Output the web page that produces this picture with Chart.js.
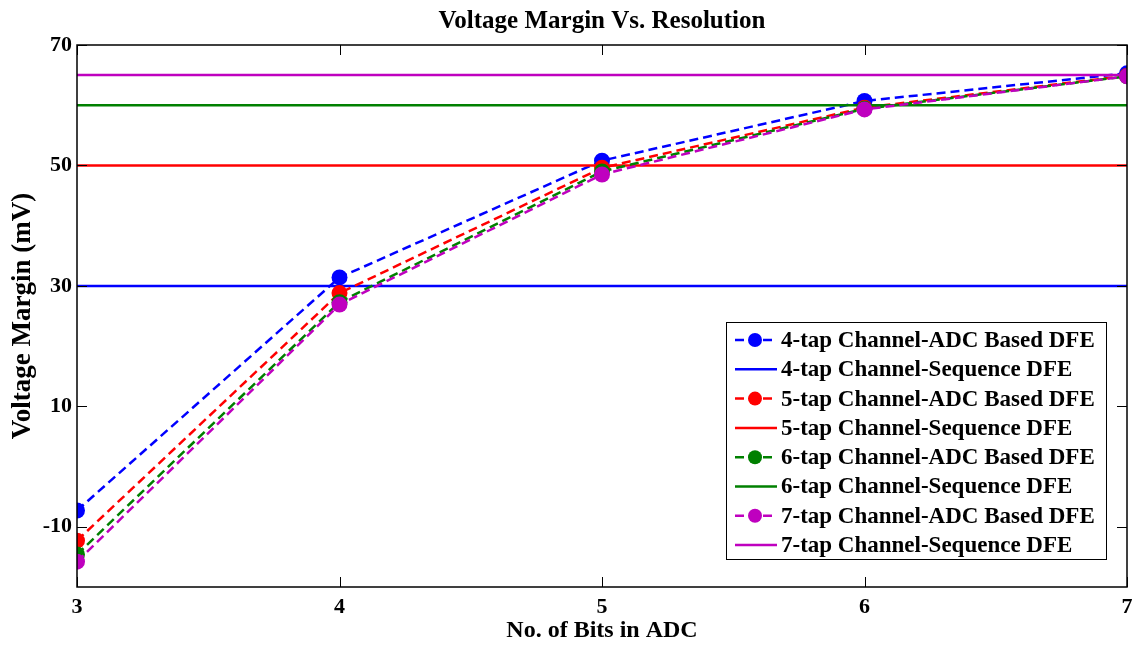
<!DOCTYPE html>
<html>
<head>
<meta charset="utf-8">
<script src="https://cdn.jsdelivr.net/npm/chart.js@4/dist/chart.umd.min.js"></script>
<style>
  html, body { margin: 0; padding: 0; background: #fff; }
  #wrap { width: 1135px; height: 645px; }
</style>
</head>
<body>
<div id="wrap"><canvas id="marginChart" width="1135" height="645"></canvas></div>
<script>
// Voltage margin vs ADC resolution

const xTicks = [3, 4, 5, 6, 7];
const yTicks = [-10, 10, 30, 50, 70];
const bits = [3, 4, 5, 6, 7];

const adc4 = [-7.3, 31.4, 50.8, 60.7, 65.3];
const adc5 = [-12.3, 28.8, 49.6, 59.6, 64.9];
const adc6 = [-14.6, 27.3, 49.0, 59.4, 64.8];
const adc7 = [-15.8, 26.9, 48.5, 59.3, 64.8];
const seqLevels = [30, 50, 60, 65];

const tapNames = ['4-tap', '5-tap', '6-tap', '7-tap'];
const COLORS = ['#0000FF', '#FF0000', '#008000', '#BF00BF'];
const FONT = "'Liberation Serif', 'Times New Roman', serif";

const adcSeries = [adc4, adc5, adc6, adc7];

const datasets = [];
tapNames.forEach((tap, i) => {
    datasets.push({
        label: tap + ' Channel-ADC Based DFE',
        data: bits.map((b, k) => ({ x: b, y: adcSeries[i][k] })),
        borderColor: COLORS[i],
        backgroundColor: COLORS[i],
        borderWidth: 2.5,
        borderDash: [9, 5],
        pointRadius: 8,
        pointBorderWidth: 0,
        pointBackgroundColor: COLORS[i],
        tension: 0,
        order: 20 - 2 * i,
        dashed: true
    });
    datasets.push({
        label: tap + ' Channel-Sequence DFE',
        data: [{ x: xTicks[0], y: seqLevels[i] }, { x: xTicks[xTicks.length - 1], y: seqLevels[i] }],
        borderColor: COLORS[i],
        backgroundColor: COLORS[i],
        borderWidth: 2.5,
        pointRadius: 0,
        tension: 0,
        order: 19 - 2 * i,
        dashed: false
    });
});

// frame, inward ticks, title and legend
const decorPlugin = {
    id: 'decor',
    afterDatasetsDraw: (chart) => {
        const ctx = chart.ctx;
        const a = chart.chartArea;
        const xs = chart.scales.x;
        const ys = chart.scales.y;
        ctx.save();
        ctx.strokeStyle = '#000';
        ctx.lineWidth = 1.5;
        ctx.strokeRect(a.left, a.top, a.right - a.left, a.bottom - a.top);

        const tl = 10;
        ctx.lineWidth = 1;
        ctx.beginPath();
        xTicks.forEach(v => {
            const px = Math.round(xs.getPixelForValue(v)) + 0.5;
            ctx.moveTo(px, a.bottom); ctx.lineTo(px, a.bottom - tl);
            ctx.moveTo(px, a.top); ctx.lineTo(px, a.top + tl);
        });
        yTicks.forEach(v => {
            const py = Math.round(ys.getPixelForValue(v)) + 0.5;
            ctx.moveTo(a.left, py); ctx.lineTo(a.left + tl, py);
            ctx.moveTo(a.right, py); ctx.lineTo(a.right - tl, py);
        });
        ctx.stroke();

        // title
        ctx.fillStyle = '#000';
        ctx.font = 'bold 25px ' + FONT;
        ctx.textAlign = 'center';
        ctx.textBaseline = 'middle';
        ctx.fillText('Voltage Margin Vs. Resolution', (a.left + a.right) / 2, 22);

        // legend
        const box = { x: 726, y: 322, w: 380, h: 237 };
        ctx.fillStyle = '#fff';
        ctx.fillRect(box.x, box.y, box.w, box.h);
        ctx.strokeStyle = '#000';
        ctx.lineWidth = 1;
        ctx.strokeRect(box.x + 0.5, box.y + 0.5, box.w, box.h);
        ctx.font = 'bold 23px ' + FONT;
        ctx.textAlign = 'left';
        chart.data.datasets.forEach((ds, i) => {
            const cy = 340 + i * 29.3;
            ctx.strokeStyle = ds.borderColor;
            ctx.lineWidth = 2.5;
            ctx.setLineDash(ds.dashed ? [9, 5] : []);
            ctx.beginPath();
            ctx.moveTo(735, cy); ctx.lineTo(777, cy);
            ctx.stroke();
            ctx.setLineDash([]);
            if (ds.dashed) {
                ctx.fillStyle = ds.borderColor;
                ctx.beginPath();
                ctx.arc(755, cy, 7, 0, Math.PI * 2);
                ctx.fill();
            }
            ctx.fillStyle = '#000';
            ctx.fillText(ds.label, 781, cy + 1);
        });
        ctx.restore();
    }
};

const tickFont = { family: FONT, size: 22, weight: 'bold' };

new Chart(document.getElementById('marginChart'), {
    type: 'line',
    data: { datasets: datasets },
    options: {
        responsive: false,
        animation: false,
        layout: { padding: { top: 45, right: 6, left: 0, bottom: 0 } },
        plugins: {
            legend: { display: false },
            title: { display: false },
            tooltip: { enabled: false }
        },
        scales: {
            x: {
                type: 'linear',
                min: 3,
                max: 7,
                grid: { display: false, drawTicks: false, tickLength: 0 },
                border: { display: false },
                afterBuildTicks: (axis) => { axis.ticks = xTicks.map(v => ({ value: v })); },
                afterFit: (axis) => {
                    axis.height = 58;
                    axis.paddingLeft = 0;
                    axis.paddingRight = 0;
                },
                ticks: { color: '#000', font: tickFont, padding: 7, maxRotation: 0 },
                title: {
                    display: true,
                    text: 'No. of Bits in ADC',
                    color: '#000',
                    font: { family: FONT, size: 24, weight: 'bold' },
                    padding: { top: 0, bottom: 0 }
                }
            },
            y: {
                min: -20,
                max: 70,
                grid: { display: false, drawTicks: false, tickLength: 0 },
                border: { display: false },
                afterBuildTicks: (axis) => { axis.ticks = yTicks.map(v => ({ value: v })); },
                afterFit: (axis) => { axis.width = 77; },
                ticks: { color: '#000', font: tickFont, padding: 5 },
                title: {
                    display: true,
                    text: 'Voltage Margin (mV)',
                    color: '#000',
                    font: { family: FONT, size: 27, weight: 'bold' },
                    padding: { top: 7, bottom: 0 }
                }
            }
        }
    },
    plugins: [decorPlugin]
});
</script>
</body>
</html>
